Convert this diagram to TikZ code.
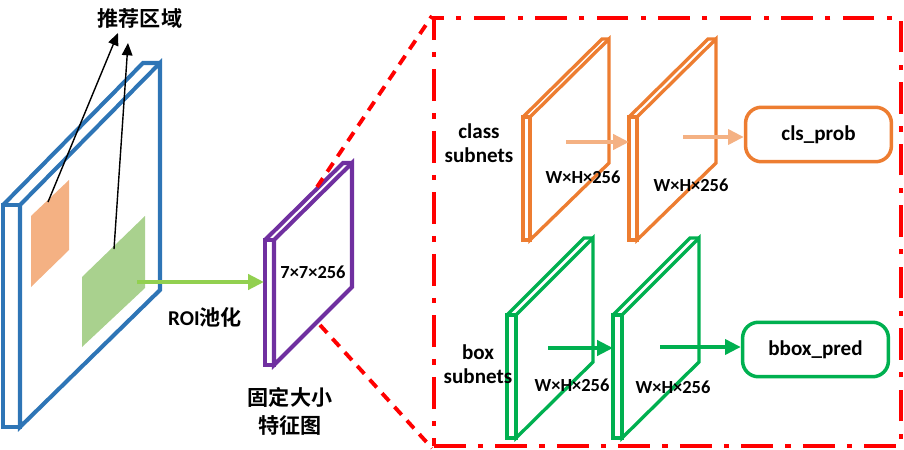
\documentclass[tikz,border=0pt]{standalone}
\usepackage{fontspec}
\setmainfont{Carlito}
\newfontfamily\cjk{Noto Sans CJK SC}[BoldFont={Noto Sans CJK SC Bold}]
\usetikzlibrary{
	arrows.meta,
	positioning,
}
\definecolor{mapblue}{HTML}{2E75B6}
\definecolor{roipurple}{HTML}{7030A0}
\definecolor{clsorange}{HTML}{ED7D31}
\definecolor{lightorange}{HTML}{F4B183}
\definecolor{boxgreen}{HTML}{00B050}
\definecolor{patchgreen}{HTML}{A9D18E}
\definecolor{poolgreen}{HTML}{92D050}
\definecolor{headred}{HTML}{FF0000}
\tikzset{
	lbl/.style={inner sep=0pt, align=center, font=\bfseries\fontsize{12}{13.6}\selectfont},
	cjklbl/.style={inner sep=0pt, align=center, font=\cjk\bfseries\fontsize{12}{15.9}\selectfont},
	dim/.style={inner sep=0pt, font=\bfseries\fontsize{10.5}{12}\selectfont},
	flow/.style={line width=2.2pt, -{Triangle[length=9pt,width=8.5pt]}},
	outbox/.style={draw, rounded corners=9pt, line width=2pt,
		minimum width=83pt, minimum height=31pt,
		font=\bfseries\fontsize{12}{14}\selectfont},
	redline/.style={headred, line width=2.2pt},
}

\begin{document}
\begin{tikzpicture}[x=0.02cm, y=-0.02cm]
\useasboundingbox (0,0) rectangle (904,450);

% feature slabs
\foreach \col/\lw/\xa/\dx/\xb/\ya/\yb/\yc/\yd in {
	mapblue/2.3/20/17/160/205/63/427/290
	,roipurple/2.3/274/9/352/240/163/365/287
	,clsorange/1.9/530/7/609/117/39/240/163
	,clsorange/1.9/637/8/716/117/39/240/163
	,boxgreen/1.9/516/9/593/315/238/438/362
	,boxgreen/1.9/622/9/699/315/238/438/362%
}{
	\draw[\col, line width=\lw pt] (\xa,\ya) -- (\xb,\yb) -- (\xb,\yd) -- (\xa,\yc) -- cycle;
	\draw[\col, line width=\lw pt] (\xa-\dx,\ya) rectangle (\xa,\yc);
	\draw[\col, line width=\lw pt] (\xa-\dx,\ya) -- (\xb-\dx,\yb) -- (\xb,\yb);
}

% proposals on the feature map
\fill[lightorange] (31,216) -- (69,180) -- (69,250) -- (31,287) -- cycle;
\fill[patchgreen] (82,277) -- (145,216) -- (145,288) -- (82,347) -- cycle;

\node[cjklbl] (region) at (140,18) {推荐区域};
\coordinate (orgpatch) at (48,202);
\coordinate (grnpatch) at (114,249);
\coordinate (tipA) at (118,33);
\coordinate (tipB) at (128,43);
\draw[line width=0.8pt, -{Triangle[length=7pt,width=6pt]}] (orgpatch) -- (tipA);
\draw[line width=0.8pt, -{Triangle[length=7pt,width=6pt]}] (grnpatch) -- (tipB);

% roi pooling
\coordinate (poolsrc) at (137,282);
\coordinate (pooldst) at (264,282);
\draw[flow, poolgreen] (poolsrc) -- (pooldst);
\node[cjklbl] (roi) at (205,317) {{\fontspec{Carlito}\bfseries ROI}池化};
\node[dim] (fixdim) at (313,272) {7×7×256};
\node[cjklbl] (fixed) at (290,411) {固定大小\\特征图};

% head
\node[draw, redline, minimum width=265.9pt, minimum height=243.8pt,
	dash pattern=on 18pt off 7pt on 3pt off 7pt] (head) at (667.5,232) {};
\coordinate (fmtop) at (317,187);
\coordinate (fmbot) at (320,325);
\draw[redline, dash pattern=on 6pt off 4.5pt] (fmtop) -- (head.north west);
\draw[redline, dash pattern=on 6pt off 4.5pt] (fmbot) -- (head.south west);

% class subnet
\node[lbl] (clsname) at (479,143) {class\\subnets};
\node[dim] (clsdim1) at (583,177) {W×H×256};
\node[dim] (clsdim2) at (691,185) {W×H×256};
\node[outbox, clsorange, text=black] (cls) at (818.5,134.5) {cls\_prob};
\coordinate (clsa) at (566,142);
\coordinate (clsb) at (629,142);
\coordinate (clsc) at (683,137);
\draw[flow, lightorange, line width=2.6pt] (clsa) -- (clsb);
\draw[flow, lightorange, line width=2.6pt] (clsc) -- (cls.west |- clsc);

% box subnet
\node[lbl] (boxname) at (478,364) {box\\subnets};
\node[dim] (boxdim1) at (572,385) {W×H×256};
\node[dim] (boxdim2) at (673,387) {W×H×256};
\node[outbox, boxgreen, text=black] (bbox) at (815.5,349.5) {bbox\_pred};
\coordinate (boxa) at (548,348);
\coordinate (boxb) at (613,348);
\coordinate (boxc) at (660,347);
\draw[flow, boxgreen] (boxa) -- (boxb);
\draw[flow, boxgreen] (boxc) -- (bbox.west |- boxc);

\end{tikzpicture}
\end{document}
